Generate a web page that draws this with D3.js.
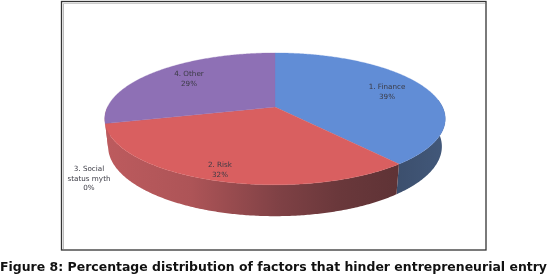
<!DOCTYPE html>
<html>
<head>
    <script src="https://d3js.org/d3.v7.min.js"></script>
    <style>
        html, body {margin: 0; padding: 0; background: #fff;}
        svg {display: block; filter: blur(0.35px);}
        .lbl {font-family: "DejaVu Sans", Verdana, sans-serif; font-size: 7.2px; fill: #3a3a44; text-anchor: middle;}
        .cap {font-family: "DejaVu Sans", Tahoma, sans-serif; font-size: 12.5px; font-weight: bold; fill: #111;}
    </style>
</head>
<body>
    <svg width="548" height="276"></svg>
    <script>
        // chart data
        const categories = ["1. Finance", "2. Risk", "3. Social status myth", "4. Other"];
        const values = [39, 32, 0, 29];
        const topColors = ["#618dd6", "#d95f60", "#9bbb59", "#8e70b5"];
        const caption = "Figure 8: Percentage distribution of factors that hinder entrepreneurial entry";

        const svg = d3.select("svg");

        // frame
        svg.append("rect").attr("x", 61.5).attr("y", 1.5).attr("width", 424.5).attr("height", 248.5)
            .attr("fill", "#fff").attr("stroke", "#333").attr("stroke-width", 1.3);
        svg.append("line").attr("x1", 63.5).attr("x2", 63.5).attr("y1", 3).attr("y2", 249)
            .attr("stroke", "#bbb").attr("stroke-width", 1);
        svg.append("line").attr("x1", 63).attr("x2", 485).attr("y1", 3.5).attr("y2", 3.5)
            .attr("stroke", "#ccc").attr("stroke-width", 1);

        // the disc is seen in perspective, so the apex sits above the ellipse centre
        const cx = 275, apexY = 107, R = 167.5, H = 63.8, persp = 0.18, depth = 27;

        function project(a, lower) {
            let u = Math.sin(a), v = -Math.cos(a), w = 1 - persp * v;
            let shrink = lower ? 0.98 : 1;
            return [cx + R * u / w * shrink, apexY + H * v / w * shrink + (lower ? depth / w : 0)];
        }

        const pie = d3.pie().sort(null).value(d => d).startAngle(0).endAngle(2 * Math.PI);
        const slices = pie(values);
        const line = d3.line();

        function arcPoints(a0, a1, lower) {
            let n = Math.max(2, Math.ceil((a1 - a0) / 0.01));
            return d3.range(n + 1).map(i => project(a0 + (a1 - a0) * i / n, lower));
        }

        // wall gradients
        const defs = svg.append("defs");
        const redGrad = defs.append("linearGradient").attr("id", "wallRed")
            .attr("gradientUnits", "userSpaceOnUse").attr("x1", 104).attr("x2", 396).attr("y1", 0).attr("y2", 0);
        [[0, "#bd5b5e"], [0.3, "#ad5457"], [0.6, "#7f4145"], [0.8, "#6a383b"], [1, "#5f3336"]].forEach(s =>
            redGrad.append("stop").attr("offset", s[0]).attr("stop-color", s[1]));
        const blueGrad = defs.append("linearGradient").attr("id", "wallBlue")
            .attr("gradientUnits", "userSpaceOnUse").attr("x1", 396).attr("x2", 445).attr("y1", 0).attr("y2", 0);
        [[0, "#3c4f6d"], [1, "#42587a"]].forEach(s =>
            blueGrad.append("stop").attr("offset", s[0]).attr("stop-color", s[1]));
        // the sliver under the purple slice reads as red in the reference
        const wallFill = ["url(#wallBlue)", "url(#wallRed)", "none", "url(#wallRed)"];

        // visible part of the side wall
        const wallFrom = 1.45, wallTo = 4.72;
        slices.forEach((s, i) => {
            let a0 = Math.max(s.startAngle, wallFrom), a1 = Math.min(s.endAngle, wallTo);
            if (a1 <= a0) return;
            let pts = arcPoints(a0, a1, false).concat(arcPoints(a0, a1, true).reverse());
            svg.append("path").attr("d", line(pts) + "Z").attr("fill", wallFill[i]);
        });

        // top faces
        slices.forEach((s, i) => {
            if (s.endAngle - s.startAngle <= 0) return;
            let pts = [[cx, apexY]].concat(arcPoints(s.startAngle, s.endAngle, false));
            svg.append("path").attr("d", line(pts) + "Z").attr("fill", topColors[i])
                .attr("stroke", topColors[i]).attr("stroke-width", 0.3);
        });

        // labels, one line per row
        const labelLines = [
            ["1. Finance", values[0] + "%"],
            ["2. Risk", values[1] + "%"],
            ["3. Social", "status myth", values[2] + "%"],
            ["4. Other", values[3] + "%"]
        ];
        const labelSpots = [[387, 89], [220, 167], [89, 171], [189, 76]];
        labelLines.forEach((rows, i) => {
            rows.forEach((t, j) => {
                svg.append("text").attr("class", "lbl")
                    .attr("x", labelSpots[i][0]).attr("y", labelSpots[i][1] + j * 9.5).text(t);
            });
        });

        // caption
        svg.append("text").attr("class", "cap").attr("x", 0).attr("y", 271)
            .attr("textLength", 547).attr("lengthAdjust", "spacingAndGlyphs").text(caption);
    </script>
</body>
</html>
